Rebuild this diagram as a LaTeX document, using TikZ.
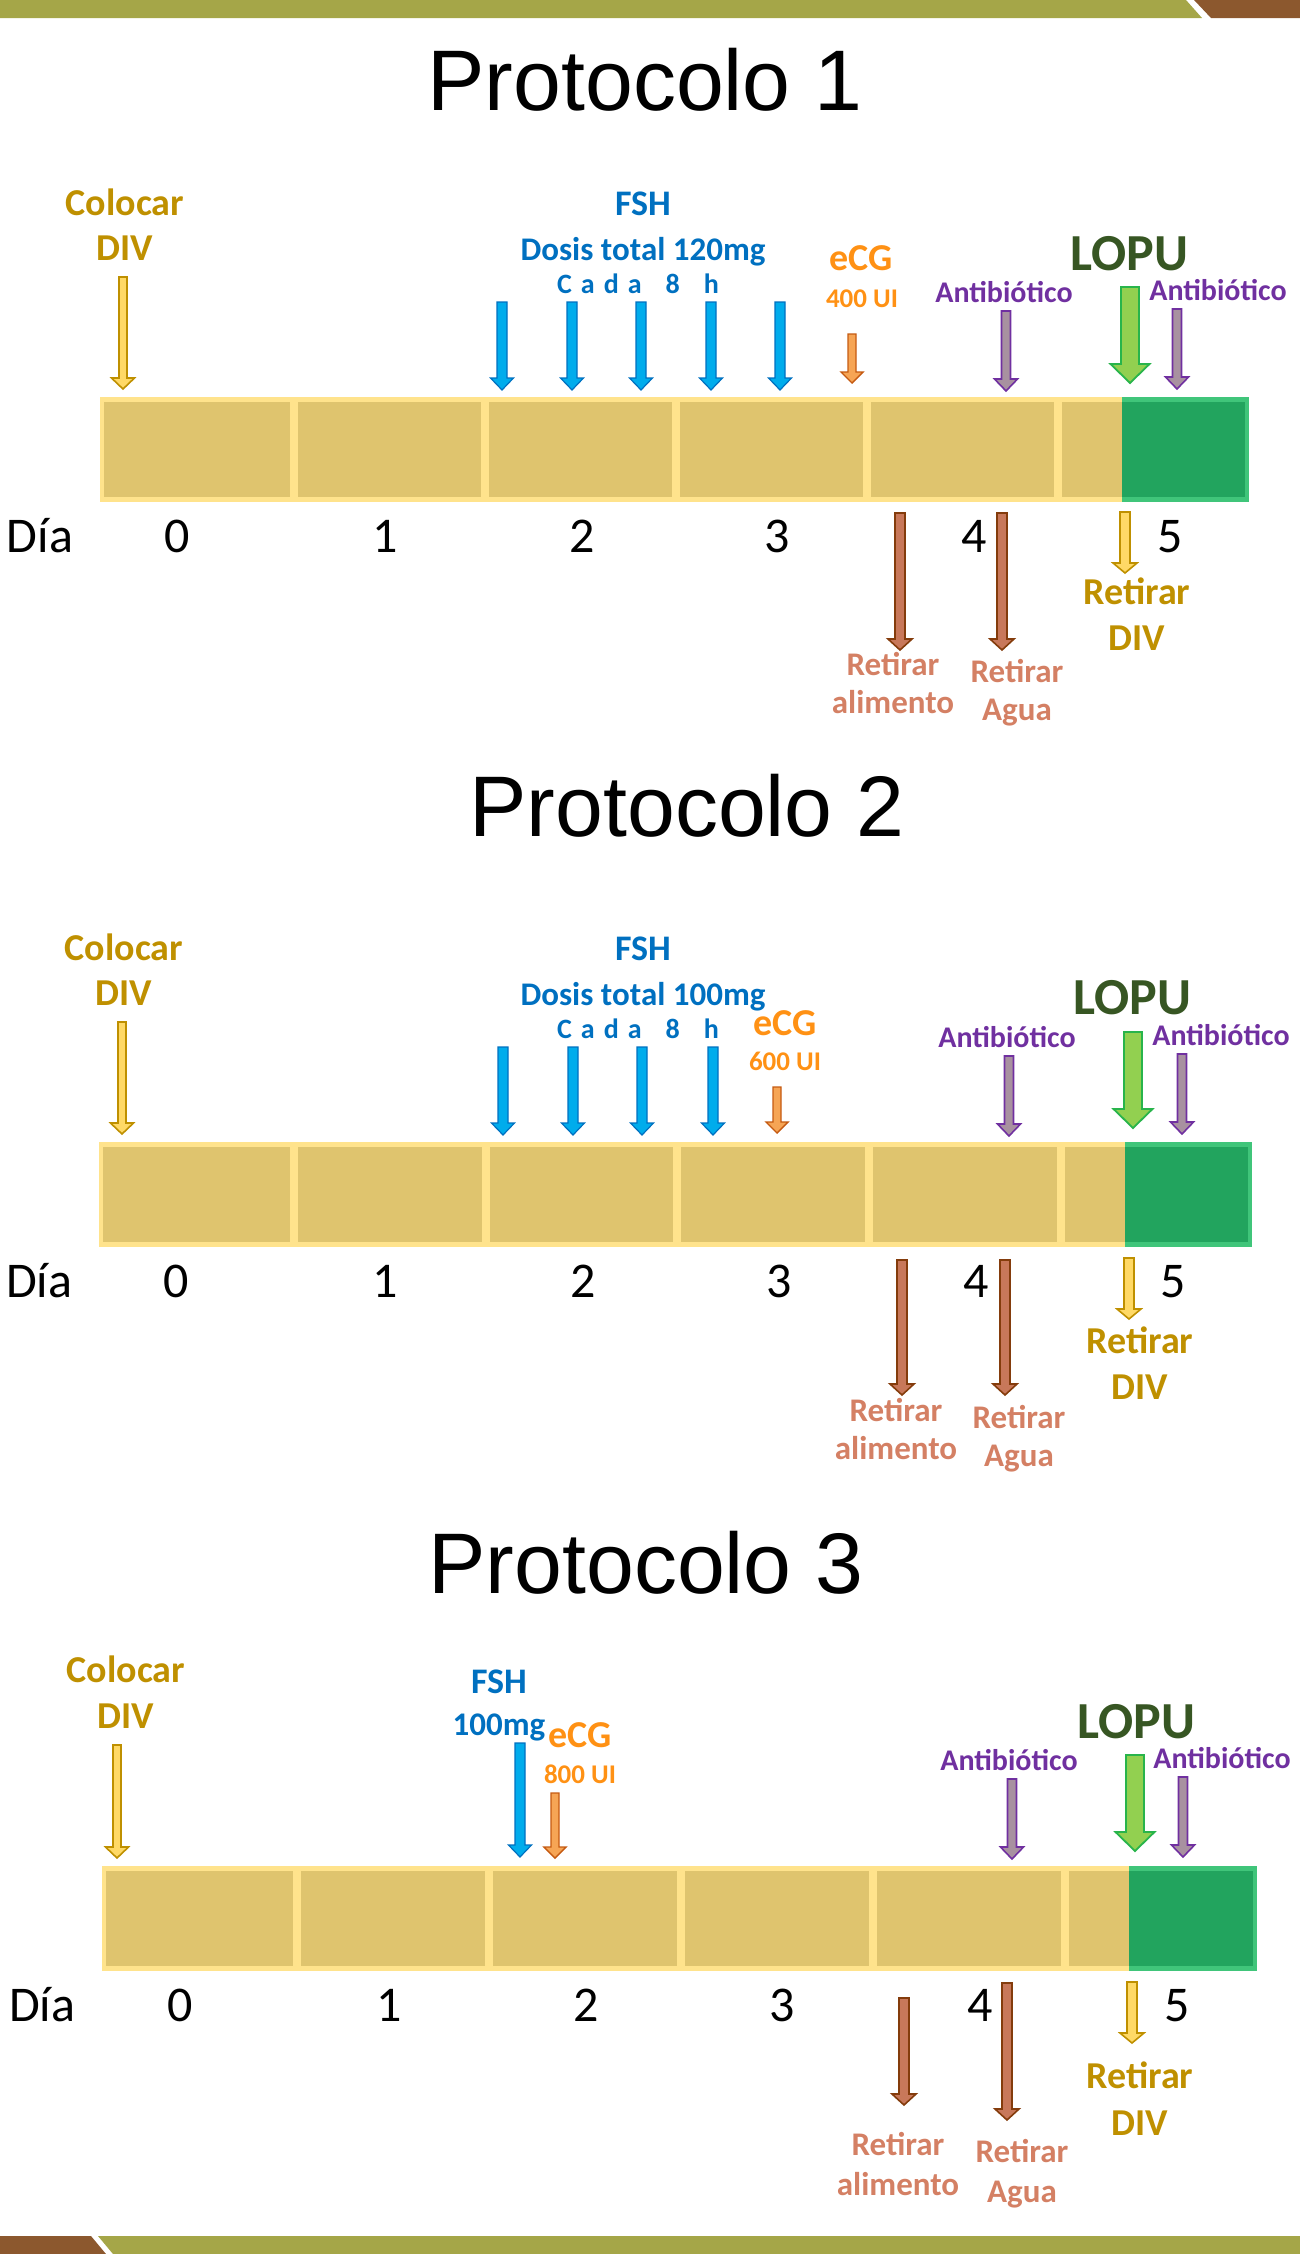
\documentclass[tikz,border=0pt]{standalone}
\usepackage{fontspec}
\setmainfont{Carlito}
\newfontfamily\titulofont{Liberation Sans}

\definecolor{oliva}{RGB}{165,166,72}
\definecolor{marron}{RGB}{140,88,46}
\definecolor{ambar}{RGB}{223,196,110}
\definecolor{ambarclaro}{RGB}{255,227,140}
\definecolor{verdeosc}{RGB}{34,164,94}
\definecolor{verdecla}{RGB}{64,197,122}
\definecolor{oro}{RGB}{191,144,0}
\definecolor{oroclaro}{RGB}{255,217,102}
\definecolor{azul}{RGB}{0,112,192}
\definecolor{celeste}{RGB}{0,172,236}
\definecolor{naranja}{RGB}{255,145,20}
\definecolor{naranjaclaro}{RGB}{246,165,85}
\definecolor{naranjaosc}{RGB}{197,90,17}
\definecolor{morado}{RGB}{112,48,160}
\definecolor{malva}{RGB}{168,145,160}
\definecolor{lopuverde}{RGB}{55,86,35}
\definecolor{lima}{RGB}{146,208,80}
\definecolor{verdeflecha}{RGB}{40,180,75}
\definecolor{salmon}{RGB}{212,128,100}
\definecolor{ladrillo}{RGB}{200,120,90}
\definecolor{cafeosc}{RGB}{132,60,12}

\tikzset{
  shaftw/.store in=\shaftw, headw/.store in=\headw, headl/.store in=\headl,
  shaftw=5, headw=12, headl=12,
  flechaoro/.style={draw=oro, fill=oroclaro, line width=1.6pt, shaftw=4, headw=11.5, headl=11},
  flechaazul/.style={draw=azul, fill=celeste, line width=1.2pt, shaftw=5, headw=11.5, headl=12},
  flechanar/.style={draw=naranjaosc, fill=naranjaclaro, line width=1.4pt, shaftw=4, headw=11, headl=11},
  flechamor/.style={draw=morado, fill=malva, line width=1.6pt, shaftw=4.5, headw=11.5, headl=12},
  flechaverde/.style={draw=verdeflecha, fill=lima, line width=1.8pt, shaftw=9, headw=19.5, headl=19},
  flechacafe/.style={draw=cafeosc, fill=ladrillo, line width=1.6pt, shaftw=5, headw=12, headl=11},
  flechachica/.style={draw=oro, fill=oroclaro, line width=1.6pt, shaftw=5, headw=12, headl=10},
  txt/.style={anchor=base, inner sep=0pt, font=\bfseries\fontsize{#1}{#1}\selectfont},
  titulo/.style={anchor=base, inner sep=0pt, font=\titulofont\fontsize{86}{90}\selectfont},
  dia/.style={anchor=base, inner sep=0pt, font=\fontsize{50}{50}\selectfont}
}

% flecha de bloque hacia abajo: estilo, x, y de arriba, y de la punta
\newcommand{\flecha}[4]{%
  \draw[#1, line join=miter] (#2-\shaftw,#3) -- (#2+\shaftw,#3) -- (#2+\shaftw,#4-\headl)
    -- (#2+\headw,#4-\headl) -- (#2,#4) -- (#2-\headw,#4-\headl) -- (#2-\shaftw,#4-\headl) -- cycle;}

% barra de dias con su fila de numeros
\newcommand{\barra}[1]{%
  \fill[ambarclaro] (100,397) rectangle (1122,502);
  \foreach \xa/\xb in {104/290,298/481,489/672,680/863,871/1054,1062/1122}
    {\fill[ambar] (\xa,402) rectangle (\xb,497);}
  \fill[verdecla] (1122,397) rectangle (1249,502);
  \fill[verdeosc] (1122,402) rectangle (1245,497);
  \node[dia] (dia#1) at (40,552) {Día};
  \foreach \d/\xd in {0/177,1/385,2/582,3/777,4/974,5/1170}
    {\node[dia] (d#1\d) at (\xd,552) {\d};}}

\begin{document}
\begin{tikzpicture}[x=1pt, y=-1pt]
  \useasboundingbox (0,0) rectangle (1300,2254);

  % franjas
  \fill[oliva] (0,0) -- (1186,0) -- (1202,18) -- (0,18) -- cycle;
  \fill[marron] (1194,0) -- (1300,0) -- (1300,18) -- (1211,18) -- cycle;
  \fill[marron] (0,2236) -- (91,2236) -- (106,2254) -- (0,2254) -- cycle;
  \fill[oliva] (98,2236) -- (1300,2236) -- (1300,2254) -- (113,2254) -- cycle;

  %%% Protocolo 1
  \node[titulo] (tit1) at (645,110) {Protocolo 1};
  \barra{1}

  \node[txt=38, text=oro] (colocar1) at (125,215) {Colocar};
  \node[txt=38, text=oro] (div1) at (125,260) {DIV};
  \flecha{flechaoro}{123}{277}{389}

  \node[txt=36, text=azul] (fsh1) at (643,215) {FSH};
  \node[txt=33, text=azul] (dosis1) at (643,260) {Dosis total 120mg};
  \node[txt=28, text=azul] (cada1) at (638,293) {C\hspace{9pt}a\hspace{9pt}d\hspace{9pt}a\hspace{24pt}8\hspace{24pt}h};
  \foreach \xf in {502,572,641,711,780}
    {\flecha{flechaazul}{\xf}{302}{390}}

  \node[txt=38, text=naranja] (ecg1) at (861,270) {eCG};
  \node[txt=27, text=naranja] (ui1) at (862,307) {400 UI};
  \flecha{flechanar}{852}{334}{383}

  \node[txt=30, text=morado] (anti1a) at (1004,302) {Antibiótico};
  \flecha{flechamor}{1006}{311}{391}
  \node[txt=52, text=lopuverde] (lopu1) at (1129,270) {LOPU};
  \flecha{flechaverde}{1130}{287}{383}
  \node[txt=30, text=morado] (anti1b) at (1218,300) {Antibiótico};
  \flecha{flechamor}{1177}{309}{389}

  \flecha{flechacafe}{900}{513}{650}
  \flecha{flechacafe}{1002}{513}{650}
  \node[txt=33, text=salmon] (ret1a) at (893,675) {Retirar};
  \node[txt=33, text=salmon] (alim1) at (893,713) {alimento};
  \node[txt=33, text=salmon] (ret1b) at (1017,682) {Retirar};
  \node[txt=33, text=salmon] (agua1) at (1017,720) {Agua};

  \flecha{flechachica}{1125}{512}{573}
  \node[txt=38, text=oro] (ret1c) at (1137,604) {Retirar};
  \node[txt=38, text=oro] (divr1) at (1137,650) {DIV};

  %%% Protocolo 2
  \node[titulo] (tit2) at (687,836) {Protocolo 2};
  \begin{scope}[shift={(-1,745)}, xscale=1.0035]
    \barra{2}
  \end{scope}

  \node[txt=38, text=oro] (colocar2) at (124,960) {Colocar};
  \node[txt=38, text=oro] (div2) at (124,1005) {DIV};
  \flecha{flechaoro}{122}{1022}{1134}

  \node[txt=36, text=azul] (fsh2) at (643,960) {FSH};
  \node[txt=33, text=azul] (dosis2) at (643,1005) {Dosis total 100mg};
  \node[txt=28, text=azul] (cada2) at (638,1038) {C\hspace{9pt}a\hspace{9pt}d\hspace{9pt}a\hspace{24pt}8\hspace{24pt}h};
  \foreach \xf in {503,573,642,713}
    {\flecha{flechaazul}{\xf}{1047}{1135}}

  \node[txt=38, text=naranja] (ecg2) at (785,1035) {eCG};
  \node[txt=27, text=naranja] (ui2) at (785,1070) {600 UI};
  \flecha{flechanar}{777}{1087}{1133}

  \node[txt=30, text=morado] (anti2a) at (1007,1047) {Antibiótico};
  \flecha{flechamor}{1009}{1056}{1136}
  \node[txt=52, text=lopuverde] (lopu2) at (1132,1014) {LOPU};
  \flecha{flechaverde}{1133}{1032}{1128}
  \node[txt=30, text=morado] (anti2b) at (1221,1045) {Antibiótico};
  \flecha{flechamor}{1182}{1054}{1134}

  \flecha{flechacafe}{902}{1260}{1395}
  \flecha{flechacafe}{1005}{1260}{1395}
  \node[txt=33, text=salmon] (ret2a) at (896,1421) {Retirar};
  \node[txt=33, text=salmon] (alim2) at (896,1459) {alimento};
  \node[txt=33, text=salmon] (ret2b) at (1019,1428) {Retirar};
  \node[txt=33, text=salmon] (agua2) at (1019,1466) {Agua};

  \flecha{flechachica}{1129}{1258}{1319}
  \node[txt=38, text=oro] (ret2c) at (1140,1353) {Retirar};
  \node[txt=38, text=oro] (divr2) at (1140,1399) {DIV};

  %%% Protocolo 3
  \node[titulo] (tit3) at (646,1593) {Protocolo 3};
  \begin{scope}[shift={(2,1469)}, xscale=1.0045]
    \barra{3}
  \end{scope}

  \node[txt=38, text=oro] (colocar3) at (126,1682) {Colocar};
  \node[txt=38, text=oro] (div3) at (126,1728) {DIV};
  \flecha{flechaoro}{117}{1745}{1858}

  \node[txt=36, text=azul] (fsh3) at (499,1693) {FSH};
  \node[txt=33, text=azul] (dosis3) at (499,1735) {100mg};
  \flecha{flechaazul}{520}{1743}{1857}
  \node[txt=38, text=naranja] (ecg3) at (580,1747) {eCG};
  \node[txt=27, text=naranja] (ui3) at (580,1783) {800 UI};
  \flecha{flechanar}{555}{1793}{1858}

  \node[txt=30, text=morado] (anti3a) at (1009,1770) {Antibiótico};
  \flecha{flechamor}{1012}{1779}{1859}
  \node[txt=52, text=lopuverde] (lopu3) at (1136,1738) {LOPU};
  \flecha{flechaverde}{1135}{1755}{1851}
  \node[txt=30, text=morado] (anti3b) at (1222,1768) {Antibiótico};
  \flecha{flechamor}{1183}{1777}{1857}

  \flecha{flechacafe}{904}{1998}{2105}
  \flecha{flechacafe}{1007}{1983}{2120}
  \node[txt=33, text=salmon] (ret3a) at (898,2155) {Retirar};
  \node[txt=33, text=salmon] (alim3) at (898,2195) {alimento};
  \node[txt=33, text=salmon] (ret3b) at (1022,2162) {Retirar};
  \node[txt=33, text=salmon] (agua3) at (1022,2202) {Agua};

  \flecha{flechachica}{1132}{1982}{2043}
  \node[txt=38, text=oro] (ret3c) at (1140,2088) {Retirar};
  \node[txt=38, text=oro] (divr3) at (1140,2135) {DIV};
\end{tikzpicture}
\end{document}
